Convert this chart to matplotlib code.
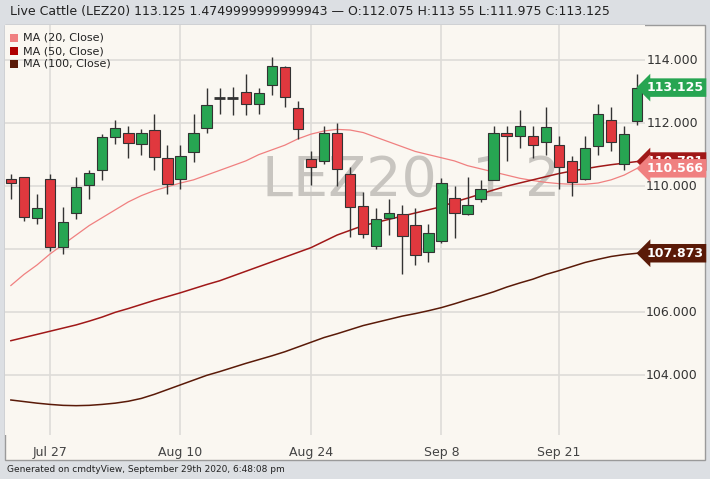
import numpy as np
import matplotlib
matplotlib.use("Agg")
import matplotlib.pyplot as plt
from matplotlib.patches import Rectangle

# daten
opens = [110.24, 110.3, 109.0, 110.24, 108.08, 109.16, 110.05, 110.5, 111.55, 111.68,
         111.33, 111.77, 110.9, 110.24, 111.07, 111.83, 112.8, 112.8, 112.98, 112.6,
         113.2, 113.78, 112.47, 110.85, 110.8, 111.7, 110.4, 109.38, 108.1, 109.0,
         109.13, 108.78, 107.92, 108.27, 109.64, 109.13, 109.6, 110.2, 111.68, 111.6,
         111.58, 111.4, 111.3, 110.8, 110.24, 111.26, 112.1, 110.7, 112.075]
closes = [110.11, 109.03, 109.3, 108.08, 108.87, 109.96, 110.43, 111.55, 111.83, 111.36,
          111.68, 110.94, 110.08, 110.97, 111.68, 112.57, 112.8, 112.8, 112.6, 112.95,
          113.8, 112.83, 111.8, 110.62, 111.7, 110.53, 109.35, 108.49, 108.97, 109.16,
          108.43, 107.82, 108.5, 110.11, 109.16, 109.4, 109.92, 111.7, 111.6, 111.9,
          111.3, 111.87, 110.6, 110.13, 111.2, 112.28, 111.4, 111.64, 113.125]
highs = [110.4, 110.3, 109.76, 110.4, 109.35, 110.3, 110.5, 111.65, 112.1, 111.9,
         111.8, 112.3, 111.3, 111.3, 112.3, 113.1, 113.1, 113.15, 113.55, 113.1,
         114.1, 113.8, 112.7, 111.1, 111.9, 112.0, 110.6, 109.8, 109.3, 109.6,
         109.4, 109.3, 108.8, 110.25, 110.0, 110.3, 110.2, 111.9, 111.9, 112.4,
         111.9, 112.5, 111.6, 110.95, 111.6, 112.6, 112.5, 111.9, 113.55]
lows = [109.6, 108.9, 108.8, 107.95, 107.85, 108.97, 109.6, 110.2, 111.35, 110.9,
        111.0, 110.5, 109.76, 109.9, 110.77, 111.7, 112.3, 112.25, 112.25, 112.3,
        112.9, 112.5, 111.5, 110.05, 110.7, 110.0, 108.4, 108.35, 108.0, 108.45,
        107.2, 107.5, 107.6, 108.2, 108.35, 109.1, 109.5, 110.2, 110.8, 111.2,
        110.9, 111.0, 109.9, 109.7, 110.2, 111.0, 111.1, 110.5, 111.95]
ma20 = [106.85, 107.2, 107.5, 107.85, 108.15, 108.45, 108.75, 109.0, 109.25, 109.5,
        109.7, 109.86, 109.98, 110.1, 110.2, 110.35, 110.5, 110.65, 110.8, 111.0,
        111.15, 111.3, 111.5, 111.65, 111.75, 111.8, 111.78, 111.7, 111.55, 111.4,
        111.25, 111.1, 111.0, 110.9, 110.8, 110.65, 110.55, 110.45, 110.35, 110.25,
        110.18, 110.12, 110.08, 110.06, 110.06, 110.1, 110.2, 110.35, 110.566]
ma50 = [105.1, 105.2, 105.3, 105.4, 105.5, 105.6, 105.72, 105.85, 106.0, 106.12,
        106.25, 106.38, 106.5, 106.62, 106.75, 106.88, 107.0, 107.15, 107.3, 107.45,
        107.6, 107.75, 107.9, 108.05, 108.25, 108.45, 108.6, 108.75, 108.85, 108.95,
        109.05, 109.15, 109.25, 109.35, 109.5, 109.62, 109.75, 109.88, 110.0, 110.1,
        110.2, 110.3, 110.4, 110.48, 110.55, 110.62, 110.68, 110.73, 110.781]
ma100 = [103.22, 103.17, 103.12, 103.08, 103.05, 103.04, 103.05, 103.08, 103.12, 103.18,
         103.27, 103.4, 103.55, 103.7, 103.85, 104.0, 104.12, 104.25, 104.38, 104.5,
         104.62, 104.75, 104.9, 105.05, 105.2, 105.32, 105.45, 105.58, 105.68, 105.78,
         105.88, 105.96, 106.05, 106.15, 106.27, 106.4, 106.52, 106.65, 106.8, 106.93,
         107.05, 107.2, 107.32, 107.45, 107.58, 107.68, 107.77, 107.83, 107.873]
tick_pos = [3, 13, 23, 33, 42]
tick_labels = ["Jul 27", "Aug 10", "Aug 24", "Sep 8", "Sep 21"]
y_ticks = [104, 106, 108, 110, 112, 114]
y_labels_shown = [104, 106, 110, 112, 114]  # 108 liegt unter dem MA100-Schild

W, H = 710, 479
fig = plt.figure(figsize=(W / 100, H / 100), dpi=100)
fig.patch.set_facecolor("#dcdfe3")
bg = "#faf7f1"
# panel
panel = Rectangle((5 / W, 1 - 460 / H), 700 / W, 435 / H, transform=fig.transFigure,
                  facecolor=bg, edgecolor="#9a9a9a", lw=1, zorder=-5)
fig.patches.append(panel)
ax = fig.add_axes([5 / W, 1 - 435 / H, 640 / W, 410 / H])
ax.set_facecolor(bg)
for s in ax.spines.values():
    s.set_visible(False)

x = np.arange(len(opens))
green, red = "#27a552", "#e0383e"
for i in x:
    up = closes[i] >= opens[i]
    c = green if up else red
    ax.vlines(i, lows[i], highs[i], color="#333333", lw=1, zorder=3)
    lo, hi = min(opens[i], closes[i]), max(opens[i], closes[i])
    if hi - lo < 0.04:
        ax.hlines(opens[i], i - 0.4, i + 0.4, color="#333333" if i < 20 else "#8a3a3a", lw=2, zorder=4)
    else:
        ax.add_patch(Rectangle((i - 0.4, lo), 0.8, hi - lo, facecolor=c,
                               edgecolor="#333333", lw=0.8, zorder=4))

ax.plot(x, ma20, color="#f08080", lw=0.9, zorder=2)
ax.plot(x, ma50, color="#a01818", lw=1.1, zorder=2)
ax.plot(x, ma100, color="#5a1a08", lw=1.1, zorder=2)

ax.text(257 / 640, 0.62, "LEZ20, 1 2", transform=ax.transAxes, fontsize=40,
        color="#c8c5c0", ha="left", va="center", zorder=1)

ax.set_xlim(-0.45, 48.6)
ax.set_ylim(102.11, 115.11)
ax.set_xticks(tick_pos)
ax.set_xticklabels(tick_labels, fontsize=9, color="#444444", fontfamily="Liberation Sans Narrow")
ax.set_yticks(y_ticks)
ax.set_yticklabels([])
ax.tick_params(length=0, pad=8)
ax.grid(True, color="#dedcd8", lw=1.2)
ax.set_axisbelow(True)

for v in y_labels_shown:
    fig.text(672 / W, ax.transData.transform((0, v))[1] / H, "%.3f" % v,
             fontsize=9, ha="center", va="center", color="#333333")

def tag(v, col, tc="white"):
    yy = ax.transData.transform((0, v))[1] / H
    fig.text(675 / W, yy, "%.3f" % v, fontsize=9, fontweight="bold", color=tc,
             ha="center", va="center", zorder=5,
             bbox=dict(boxstyle="larrow,pad=0.22", fc=col, ec="none"))

tag(ma50[-1], "#a01818")
tag(ma20[-1], "#f08080")
tag(closes[-1], "#27a552")
tag(ma100[-1], "#5a1a08")

# legende
for k, (lab, col) in enumerate([("MA (20, Close)", "#f08080"), ("MA (50, Close)", "#b00000"),
                                ("MA (100, Close)", "#5a1a08")]):
    yy = 1 - (38 + k * 13) / H
    fig.add_artist(Rectangle((10 / W, yy - 4 / H), 8 / W, 8 / H, transform=fig.transFigure,
                             facecolor=col, edgecolor="none"))
    fig.text(23 / W, yy, lab, fontsize=8, va="center", color="#222222")

fig.text(10 / W, 1 - 12 / H,
         "Live Cattle (LEZ20) 113.125 1.4749999999999943 \u2014 O:112.075 H:113 55 L:111.975 C:113.125",
         fontsize=9, va="center", color="#222222")
fig.text(7 / W, 1 - 470 / H, "Generated on cmdtyView, September 29th 2020, 6:48:08 pm",
         fontsize=6.5, va="center", color="#222222")

fig.savefig("out.png", dpi=100, facecolor=fig.get_facecolor())
